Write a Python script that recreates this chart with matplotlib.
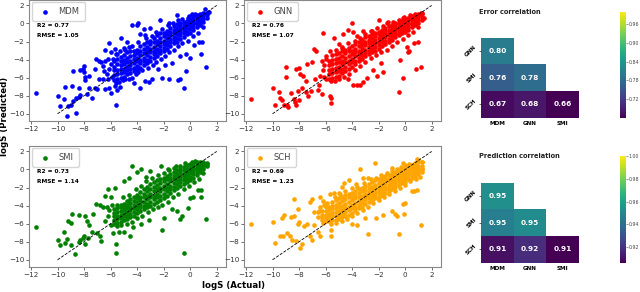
import numpy as np
import matplotlib
matplotlib.use("Agg")
import matplotlib.pyplot as plt

W, H = 640, 292

# dense part of each cloud: (actual, [predicted values])
mdm_core = [(-5.75, [-6.3, -5.7, -5.2, -4.8, -4.2]), (-5.5, [-6.2, -5.6, -5.1, -4.5, -3.9, -3.4]),
            (-5.25, [-6.0, -5.5, -5.0, -4.6, -4.2, -3.7]), (-5.0, [-5.9, -5.4, -5.0, -4.5, -4.0, -3.5]),
            (-4.75, [-5.6, -5.2, -4.8, -4.3, -3.8, -3.2]), (-4.5, [-5.5, -5.0, -4.6, -4.2, -3.6, -3.1]),
            (-4.25, [-5.3, -4.9, -4.4, -3.9, -3.5, -3.0]), (-4.0, [-5.2, -4.7, -4.2, -3.8, -3.3, -2.9]),
            (-3.75, [-4.9, -4.4, -4.0, -3.5, -3.0, -2.5]), (-3.5, [-4.6, -4.2, -3.8, -3.3, -2.8, -2.3]),
            (-3.25, [-4.4, -4.0, -3.5, -3.1, -2.6, -2.1]), (-3.0, [-4.1, -3.7, -3.2, -2.8, -2.3, -1.9]),
            (-2.75, [-3.8, -3.4, -3.0, -2.6, -2.1, -1.6]), (-2.5, [-3.6, -3.2, -2.8, -2.3, -1.9, -1.3]),
            (-2.25, [-3.3, -2.9, -2.5, -2.0, -1.6, -1.1]), (-2.0, [-3.1, -2.7, -2.3, -1.9, -1.4, -1.0]),
            (-1.75, [-2.8, -2.4, -2.0, -1.6, -1.2, -0.8]), (-1.5, [-2.5, -2.1, -1.7, -1.3, -0.9, -0.5]),
            (-1.25, [-2.2, -1.8, -1.5, -1.1, -0.7, -0.3]), (-1.0, [-2.0, -1.6, -1.2, -0.8, -0.5, -0.1]),
            (-0.75, [-1.7, -1.3, -0.9, -0.6, -0.3, 0.0]), (-0.5, [-1.5, -1.1, -0.7, -0.4, -0.1, 0.2]),
            (-0.25, [-1.2, -0.9, -0.5, -0.2, 0.1, 0.3]), (0.0, [-1.0, -0.6, -0.3, 0.0, 0.3, 0.5]),
            (0.25, [-0.7, -0.4, -0.1, 0.2, 0.5, 0.7]), (0.5, [-0.4, -0.1, 0.2, 0.4, 0.7, 0.9]),
            (0.75, [-0.2, 0.1, 0.4, 0.6, 0.9, 1.1]), (1.0, [0.2, 0.5, 0.8, 1.0, 1.2]),
            (1.25, [0.6, 0.9, 1.2])]
gnn_core = [(-5.75, [-6.1, -5.6, -5.1, -4.6, -4.1]), (-5.5, [-6.0, -5.5, -5.0, -4.5, -4.0, -3.5]),
            (-5.25, [-5.9, -5.4, -4.9, -4.4, -3.9, -3.4]), (-5.0, [-5.8, -5.3, -4.8, -4.3, -3.8, -3.3]),
            (-4.75, [-5.5, -5.0, -4.5, -4.1, -3.6, -3.1]), (-4.5, [-5.3, -4.8, -4.3, -3.8, -3.3, -2.9]),
            (-4.25, [-5.0, -4.5, -4.1, -3.6, -3.1, -2.7]), (-4.0, [-4.8, -4.3, -3.9, -3.4, -3.0, -2.5]),
            (-3.75, [-4.5, -4.1, -3.6, -3.2, -2.8, -2.3]), (-3.5, [-4.2, -3.8, -3.4, -3.0, -2.5, -2.1]),
            (-3.25, [-3.9, -3.5, -3.1, -2.7, -2.3, -1.8]), (-3.0, [-3.6, -3.3, -2.9, -2.4, -2.0, -1.5]),
            (-2.75, [-3.4, -3.0, -2.6, -2.2, -1.8, -1.4]), (-2.5, [-3.2, -2.8, -2.4, -2.0, -1.6, -1.2]),
            (-2.25, [-3.0, -2.6, -2.2, -1.8, -1.4, -1.0]), (-2.0, [-2.8, -2.4, -2.0, -1.6, -1.2, -0.9]),
            (-1.75, [-2.5, -2.1, -1.8, -1.4, -1.0, -0.7]), (-1.5, [-2.3, -1.9, -1.5, -1.2, -0.8, -0.5]),
            (-1.25, [-2.0, -1.7, -1.3, -1.0, -0.7, -0.3]), (-1.0, [-1.8, -1.4, -1.1, -0.8, -0.5, -0.2]),
            (-0.75, [-1.5, -1.2, -0.9, -0.6, -0.3, 0.0]), (-0.5, [-1.3, -1.0, -0.7, -0.4, -0.1, 0.1]),
            (-0.25, [-1.1, -0.8, -0.5, -0.2, 0.0, 0.3]), (0.0, [-0.9, -0.6, -0.3, -0.1, 0.2, 0.4]),
            (0.25, [-0.7, -0.4, -0.1, 0.1, 0.4, 0.6]), (0.5, [-0.4, -0.1, 0.1, 0.4, 0.6, 0.8]),
            (0.75, [-0.2, 0.1, 0.3, 0.6, 0.8, 1.0]), (1.0, [0.1, 0.4, 0.7, 0.9, 1.1]),
            (1.25, [0.4, 0.7, 1.0, 1.2])]
smi_core = [(-5.75, [-6.0, -5.6, -5.2, -4.8, -4.4]), (-5.5, [-5.9, -5.5, -5.1, -4.7, -4.3, -3.9]),
            (-5.25, [-5.8, -5.4, -5.0, -4.6, -4.2, -3.9]), (-5.0, [-5.6, -5.2, -4.9, -4.5, -4.1, -3.8]),
            (-4.75, [-5.5, -5.1, -4.7, -4.3, -3.9, -3.5]), (-4.5, [-5.3, -4.9, -4.5, -4.1, -3.7, -3.3]),
            (-4.25, [-5.1, -4.7, -4.3, -3.9, -3.5, -3.0]), (-4.0, [-4.8, -4.4, -4.0, -3.6, -3.2, -2.8]),
            (-3.75, [-4.6, -4.2, -3.8, -3.4, -3.0, -2.5]), (-3.5, [-4.4, -4.0, -3.6, -3.1, -2.7, -2.2]),
            (-3.25, [-4.2, -3.8, -3.3, -2.9, -2.4, -1.9]), (-3.0, [-4.0, -3.6, -3.1, -2.7, -2.2, -1.6]),
            (-2.75, [-3.8, -3.3, -2.9, -2.4, -1.9, -1.4]), (-2.5, [-3.6, -3.1, -2.7, -2.2, -1.7, -1.2]),
            (-2.25, [-3.4, -2.9, -2.4, -2.0, -1.5, -1.1]), (-2.0, [-3.2, -2.7, -2.2, -1.8, -1.3, -0.9]),
            (-1.75, [-2.9, -2.4, -2.0, -1.6, -1.1, -0.7]), (-1.5, [-2.6, -2.2, -1.8, -1.3, -0.9, -0.5]),
            (-1.25, [-2.3, -1.9, -1.5, -1.1, -0.7, -0.3]), (-1.0, [-2.0, -1.6, -1.2, -0.8, -0.5, -0.1]),
            (-0.75, [-1.8, -1.4, -1.0, -0.7, -0.3, 0.1]), (-0.5, [-1.6, -1.2, -0.8, -0.5, -0.1, 0.3]),
            (-0.25, [-1.4, -1.0, -0.6, -0.3, 0.1, 0.5]), (0.0, [-1.2, -0.8, -0.4, -0.1, 0.2, 0.6]),
            (0.25, [-0.9, -0.5, -0.2, 0.1, 0.4, 0.7]), (0.5, [-0.6, -0.3, 0.0, 0.2, 0.5, 0.8]),
            (0.75, [-0.3, 0.0, 0.2, 0.4, 0.6, 0.8]), (1.0, [0.1, 0.3, 0.5, 0.7, 0.8]),
            (1.25, [0.4, 0.6, 0.7])]
sch_core = [(-6.25, [-5.6, -5.3, -5.0, -4.6]), (-6.0, [-5.7, -5.4, -5.0, -4.6, -4.2]),
            (-5.75, [-5.7, -5.3, -4.9, -4.5, -4.1]), (-5.5, [-5.6, -5.2, -4.8, -4.4, -4.0, -3.6]),
            (-5.25, [-5.6, -5.2, -4.7, -4.3, -3.9, -3.4]), (-5.0, [-5.5, -5.1, -4.6, -4.2, -3.7, -3.2]),
            (-4.75, [-5.3, -4.9, -4.5, -4.0, -3.5, -3.0]), (-4.5, [-5.1, -4.7, -4.3, -3.8, -3.3, -2.8]),
            (-4.25, [-5.0, -4.5, -4.1, -3.6, -3.1, -2.7]), (-4.0, [-4.8, -4.3, -3.9, -3.4, -3.0, -2.6]),
            (-3.75, [-4.5, -4.1, -3.7, -3.2, -2.8, -2.4]), (-3.5, [-4.3, -3.9, -3.5, -3.1, -2.6, -2.2]),
            (-3.25, [-4.1, -3.7, -3.3, -2.9, -2.4, -2.0]), (-3.0, [-3.8, -3.4, -3.1, -2.7, -2.3, -1.8]),
            (-2.75, [-3.6, -3.2, -2.9, -2.5, -2.1, -1.6]), (-2.5, [-3.4, -3.0, -2.7, -2.3, -1.9, -1.4]),
            (-2.25, [-3.2, -2.8, -2.5, -2.1, -1.7, -1.2]), (-2.0, [-3.0, -2.6, -2.3, -1.9, -1.5, -1.0]),
            (-1.75, [-2.8, -2.4, -2.1, -1.7, -1.3, -0.9]), (-1.5, [-2.6, -2.2, -1.9, -1.5, -1.1, -0.7]),
            (-1.25, [-2.4, -2.0, -1.7, -1.3, -1.0, -0.6]), (-1.0, [-2.2, -1.8, -1.5, -1.2, -0.8, -0.5]),
            (-0.75, [-1.9, -1.6, -1.3, -1.0, -0.7, -0.3]), (-0.5, [-1.7, -1.4, -1.1, -0.8, -0.5, -0.2]),
            (-0.25, [-1.5, -1.2, -0.9, -0.6, -0.3, 0.0]), (0.0, [-1.4, -1.0, -0.7, -0.4, -0.2, 0.1]),
            (0.25, [-1.1, -0.8, -0.5, -0.2, 0.0, 0.3]), (0.5, [-0.9, -0.6, -0.3, 0.0, 0.2, 0.5]),
            (0.75, [-0.7, -0.4, -0.1, 0.2, 0.4, 0.7]), (1.0, [-0.5, -0.2, 0.1, 0.4, 0.8, 1.0]),
            (1.25, [-0.3, 0.1, 0.4, 0.8])]

# scattered points away from the band
mdm_out = [(-11.6, -7.7), (-10, -8), (-9.8, -9.1), (-9.5, -8.4), (-9.3, -10.2), (-9.2, -9.1), (-9.0, -9.0),
           (-9.4, -7), (-8.9, -6.9), (-8.8, -5.3), (-8.4, -7.1), (-8.6, -8.2), (-8.4, -8.1), (-8.3, -7.9),
           (-8.6, -9.9), (-8.8, -8.6), (-8.1, -5), (-8.0, -4.7), (-8.3, -5.1), (-8, -5.4), (-7.9, -5.9),
           (-7.9, -6.3), (-7.6, -5.8), (-7.6, -7.1), (-7.8, -7.8), (-7.4, -8.3), (-7.2, -7.2), (-7, -7.3),
           (-7.2, -5), (-7.1, -3.9), (-6.9, -4.2), (-6.7, -4.3), (-6.6, -4.7), (-6.5, -5.3), (-6.4, -2.9),
           (-6.2, -6.2), (-6.6, -6.2), (-6.9, -6.1), (-6.4, -7.3), (-6.0, -7.7), (-6.1, -7.2), (-5.6, -9),
           (-5.5, -7.4), (-5.7, -6.9), (-5.3, -7.0), (-6.1, -2.2), (-6.0, -3.2), (-5.7, -2.8), (-5.6, -3.4),
           (-5.2, -1.6), (-5.0, -2.7), (-4.8, -2.1), (-4.6, -2.6), (-4.4, -0.2), (-4.0, -0.2), (-3.9, 0.0),
           (-3.8, -1.2), (-3.5, -0.6), (-3.4, -1.3), (-3.0, -0.5), (-4.2, -6.6), (-3.8, -7.1), (-3.4, -6.4),
           (-3.1, -6.5), (-2.9, -6.2), (-4.4, -6.0), (-2.1, -6.0), (-1.6, -6.2), (-0.9, -6.3), (-0.8, -6.1),
           (-0.5, -7.2), (-2.4, -5.0), (-1.9, -4.6), (-1.4, -4.4), (-0.3, -5.3), (1.2, -4.8), (0.8, -3.4),
           (0.0, -3.8), (-0.3, -3.4), (-0.8, -3.6), (0.7, -2.1), (0.9, -2.0), (0.3, -2.4), (-2.3, 0.4),
           (-1.6, 0.1), (-1.0, 0.9), (-0.2, 0.6), (0.1, 1.1), (1.1, 1.6), (1.4, 1.3),
           # loose edge of the band
           (-6.3, -5.6), (-6.1, -5.0), (-6.0, -4.5), (-5.9, -5.9), (-6.4, -4.2), (-6.2, -3.9), (-5.85, -3.9),
           (-5.6, -6.6), (-5.4, -6.5), (-5.1, -6.3), (-4.9, -6.2), (-4.6, -6.1), (-4.1, -5.6), (-3.9, -5.4),
           (-3.6, -5.2), (-3.2, -4.9), (-2.8, -4.6), (-2.6, -4.3), (-2.2, -3.9), (-1.9, -3.6), (-1.6, -3.2),
           (-1.2, -2.9), (-0.9, -2.5), (-0.6, -2.2), (-0.2, -1.9), (0.2, -1.4), (0.6, -1.1), (1.0, -0.4),
           (-5.3, -3.0), (-4.9, -2.9), (-4.4, -2.5), (-3.9, -2.0), (-3.3, -1.6), (-2.9, -1.4), (-2.6, -0.9),
           (-2.1, -0.6), (-1.7, -0.2), (-1.3, 0.1), (-0.9, 0.4), (-0.6, 0.5), (-0.1, 0.8), (0.4, 1.1)]
gnn_out = [(-11.6, -8.4), (-10, -7.2), (-9.8, -9), (-9.5, -7.6), (-9.4, -8.2), (-9.3, -8.5), (-9.1, -9),
           (-8.9, -9), (-8.8, -9.3), (-9.0, -4.8), (-9.0, -5.9), (-8.6, -7.7), (-8.4, -8.4), (-8.3, -8.7),
           (-8.2, -9), (-8.0, -8.5), (-8.1, -7.5), (-7.8, -7.2), (-7.5, -7.6), (-7.3, -8), (-7.1, -7.5),
           (-8.0, -4.9), (-8.2, -5), (-7.9, -5.6), (-7.7, -5.8), (-7.5, -6.4), (-7.4, -4.5), (-7.0, -4.3),
           (-6.9, -2.8), (-6.7, -3.0), (-6.8, -6.2), (-6.5, -6.8), (-6.6, -7.4), (-6.3, -7.8), (-6.1, -5.9),
           (-5.7, -8.0), (-5.6, -8.2), (-5.6, -8.8), (-6.2, -1.0), (-6.0, -3.6), (-5.7, -3.0), (-5.4, -1.6),
           (-5.0, -2.3), (-4.8, -2.6), (-4.7, -1.2), (-4.3, -0.7), (-4.0, 0.0), (-3.9, -0.9), (-3.6, -1.4),
           (-3.2, -0.8), (-2.6, -0.8), (-2.0, 0.4), (-1.3, 0.2), (-0.2, 0.6), (-3.9, -6.8), (-3.6, -6.8),
           (-3.4, -6.8), (-3.2, -6.5), (-4.3, -6.2), (-2.9, -6.0), (-2.1, -5.8), (-1.7, -5.4), (-0.5, -7.6),
           (-0.2, -6.0), (0.8, -5.0), (1.2, -4.8), (-1.8, -4.4), (-2.4, -5.2), (0.2, -3.2), (0.3, -3.0),
           (0.1, -2.6), (-0.4, -4.0), (0.7, -2.2), (1.0, -2.1), (1.4, 0.6), (1.2, 1.2),
           # loose edge of the band
           (-6.4, -5.8), (-6.2, -5.2), (-6.1, -4.6), (-6.0, -6.2), (-6.3, -4.1), (-5.95, -3.9), (-5.6, -6.4),
           (-5.3, -6.4), (-5.0, -6.2), (-4.6, -5.9), (-4.2, -5.6), (-3.8, -5.2), (-3.4, -4.7), (-3.0, -4.3),
           (-2.6, -3.8), (-2.2, -3.5), (-1.8, -3.2), (-1.4, -2.9), (-1.0, -2.5), (-0.6, -2.0), (-0.2, -1.7),
           (0.2, -1.3), (0.6, -0.9), (1.0, -0.4), (-5.2, -2.9), (-4.8, -2.7), (-4.3, -2.2), (-3.8, -1.9),
           (-3.4, -1.6), (-3.0, -1.2), (-2.5, -0.8), (-2.1, -0.5), (-1.7, -0.3), (-1.4, 0.0), (-0.9, 0.2),
           (-0.5, 0.4), (-0.1, 0.7), (0.4, 0.9)]
smi_out = [(-11.6, -6.4), (-10, -7.8), (-9.8, -8.4), (-9.4, -8.1), (-9.3, -7.7), (-9.0, -8.4), (-8.7, -9.4),
           (-9.5, -6.9), (-9.2, -5.7), (-9.0, -5.9), (-8.9, -4.9), (-8.4, -5.0), (-8.4, -8.0), (-8.3, -7.8),
           (-8.1, -7.6), (-8.0, -7.4), (-7.9, -8.3), (-7.7, -7.6), (-7.9, -5.1), (-7.8, -5.7), (-7.6, -6.1),
           (-7.3, -4.9), (-7.4, -6.9), (-7.0, -7.0), (-6.8, -7.4), (-6.7, -7.9), (-7.1, -3.8), (-6.8, -3.9),
           (-6.6, -4.2), (-6.4, -2.9), (-6.2, -2.2), (-6.0, -3.0), (-5.7, -2.1), (-5.8, -7.0), (-5.6, -8.2),
           (-5.6, -9.3), (-5.4, -6.9), (-5.0, -6.9), (-4.5, -7.4), (-5.0, -1.3), (-4.6, -0.9), (-4.4, 0.4),
           (-4.0, -0.3), (-3.7, 0.1), (-3.3, -0.8), (-3.0, -0.2), (-4.3, -6.4), (-3.7, -6.0), (-3.1, -5.6),
           (-2.1, -6.7), (-2.0, -5.4), (-1.4, -4.4), (-1.0, -4.6), (-0.8, -5.5), (-0.6, -5.2), (-0.5, -9.3),
           (-0.2, -4.3), (1.2, -5.5), (0.8, -3.1), (0.2, -3.1), (0.0, -3.2), (0.6, -2.3), (0.8, -2.3),
           (-2.2, 0.4), (-1.7, 0.1), (-1.1, 0.4),
           # loose edge of the band
           (-6.4, -5.7), (-6.2, -5.1), (-6.1, -4.5), (-6.0, -6.1), (-6.3, -4.2), (-5.9, -3.9), (-5.5, -6.3),
           (-5.2, -6.1), (-4.8, -6.0), (-4.4, -5.8), (-4.0, -5.4), (-3.6, -5.1), (-3.2, -4.7), (-2.8, -4.4),
           (-2.4, -4.2), (-2.1, -3.9), (-1.7, -3.6), (-1.3, -3.1), (-0.9, -2.7), (-0.5, -2.2), (-0.1, -1.8),
           (0.3, -1.4), (0.7, -1.0), (1.0, -0.4), (-5.1, -3.1), (-4.6, -2.8), (-4.1, -2.2), (-3.7, -1.8),
           (-3.3, -1.3), (-2.9, -0.9), (-2.4, -0.6), (-2.0, -0.4), (-1.6, -0.1), (-1.2, 0.2), (-0.8, 0.4),
           (-0.4, 0.7), (0.1, 0.8), (0.4, 0.9)]
sch_out = [(-11.6, -6.0), (-10, -5.8), (-9.8, -8.1), (-9.4, -7.4), (-9.2, -7.4), (-9.3, -5.4), (-9.1, -5.0),
           (-8.9, -7.0), (-8.7, -7.4), (-8.6, -5.3), (-8.4, -5.1), (-8.4, -3.3), (-8.5, -7.8), (-8.2, -7.9),
           (-8.1, -6.0), (-8.0, -5.8), (-8.1, -4.4), (-7.9, -8.7), (-7.8, -8.2), (-7.6, -6.3), (-7.4, -6.0),
           (-7.2, -7.4), (-7.0, -7.8), (-7.2, -3.6), (-7.0, -3.3), (-6.9, -4.7), (-6.6, -4.7), (-6.4, -3.0),
           (-6.2, -3.5), (-6.9, -6.2), (-6.6, -6.9), (-6.4, -7.4), (-5.6, -7.4), (-5.6, -6.7), (-5.7, -2.7),
           (-5.4, -2.6), (-5.0, -2.6), (-4.8, -1.9), (-4.6, -1.5), (-4.2, -1.2), (-3.4, 0.1), (-3.7, -1.6),
           (-3.2, -0.9), (-2.8, -0.9), (-2.3, 0.7), (-4.0, -6.0), (-3.6, -6.2), (-3.0, -5.4), (-2.8, -7.2),
           (-2.2, -5.4), (-1.7, -5.0), (-1.0, -4.6), (-0.8, -4.9), (-0.6, -5.2), (-0.5, -7.1), (-0.1, -4.9),
           (1.2, -6.1), (-0.2, -3.8), (0.0, -3.7), (0.5, -2.4), (0.7, -2.4), (0.9, -2.3), (-1.0, 0.2),
           (-0.2, 0.7), (0.0, 0.5), (0.9, 1.2), (1.3, 0.8), (1.3, 0.1),
           # loose edge of the band
           (-6.6, -5.3), (-6.5, -4.6), (-6.4, -4.1), (-6.2, -5.9), (-6.1, -3.9), (-5.9, -3.7), (-5.6, -6.0),
           (-5.2, -5.9), (-4.8, -5.7), (-4.4, -5.5), (-4.0, -5.2), (-3.6, -4.8), (-3.2, -4.5), (-2.8, -4.1),
           (-2.4, -3.7), (-2.0, -3.4), (-1.6, -3.1), (-1.2, -2.7), (-0.8, -2.4), (-0.4, -2.0), (0.0, -1.7),
           (0.4, -1.3), (0.8, -1.0), (1.1, -0.8), (-5.3, -3.0), (-4.9, -2.7), (-4.5, -2.4), (-4.0, -2.1),
           (-3.6, -1.9), (-3.1, -1.5), (-2.6, -1.1), (-2.2, -0.9), (-1.8, -0.6), (-1.4, -0.4), (-1.0, -0.2),
           (-0.6, 0.1), (-0.3, 0.3), (0.3, 0.6)]

series_names = ["MDM", "GNN", "SMI", "SCH"]
series_colors = ["blue", "red", "green", "orange"]
r2_values = [0.77, 0.76, 0.73, 0.69]
rmse_values = [1.05, 1.07, 1.14, 1.23]

heat_xlabels = ["MDM", "GNN", "SMI"]
heat_ylabels = ["GNN", "SMI", "SCH"]
error_corr = [[0.80, np.nan, np.nan], [0.76, 0.78, np.nan], [0.67, 0.68, 0.66]]
pred_corr = [[0.953, np.nan, np.nan], [0.946, 0.951, np.nan], [0.910, 0.918, 0.906]]


def px_axes(fig, left, top, right, bottom):
    """Axes placed from pixel edges, y counted from the top."""
    return fig.add_axes([left / W, 1 - bottom / H, (right - left) / W, (bottom - top) / H])


def expand(core, out):
    xs = [c[0] for c in core for _ in c[1]] + [p[0] for p in out]
    ys = [y for c in core for y in c[1]] + [p[1] for p in out]
    return xs, ys


def plot_scatter(ax, core, out, name, color, r2, rmse):
    xs, ys = expand(core, out)
    ax.scatter(xs, ys, s=11, color=color, linewidths=0, label=name)
    ax.plot([-10, 2], [-10, 2], color="black", ls="--", lw=0.6)
    ax.set_xlim(-12.15, 2.7)
    ax.set_ylim(-10.8, 2.6)
    ax.set_xticks(range(-12, 3, 2))
    ax.set_yticks(range(-10, 3, 2))
    ax.tick_params(labelsize=5.2, length=2, width=0.5, pad=1.5, colors="#333333")
    for s in ax.spines.values():
        s.set_color("#888888")
        s.set_linewidth(0.8)
    ax.legend(loc="upper left", fontsize=6, markerscale=1, handletextpad=0.6, borderpad=0.6,
              bbox_to_anchor=(0.015, 0.985), borderaxespad=0, labelcolor="#444444")
    ax.text(0.04, 0.79, f"R2 = {r2:.2f}", transform=ax.transAxes, fontsize=4.2, fontweight="bold", va="center")
    ax.text(0.04, 0.71, f"RMSE = {rmse:.2f}", transform=ax.transAxes, fontsize=4.2, fontweight="bold", va="center")


def plot_heat(fig, box, cbar_box, values, vmin, vmax, cbar_ticks, title, title_y):
    ax = px_axes(fig, *box)
    arr = np.ma.masked_invalid(np.array(values))
    mesh = ax.pcolormesh(arr, cmap="viridis", vmin=vmin, vmax=vmax)
    ax.invert_yaxis()
    for i in range(3):
        for j in range(3):
            if not np.ma.is_masked(arr[i, j]):
                ax.text(j + 0.5, i + 0.5, f"{arr[i, j]:.2f}", color="white", fontsize=5.3,
                        fontweight="bold", ha="center", va="center")
    for s in ax.spines.values():
        s.set_visible(False)
    ax.set_xticks([0.5, 1.5, 2.5], heat_xlabels, fontsize=4.1, fontweight="bold")
    ax.set_yticks([0.5, 1.5, 2.5], heat_ylabels, fontsize=4.1, fontweight="bold", rotation=45, va="center")
    ax.tick_params(axis="x", length=0, pad=2.5)
    ax.tick_params(axis="y", length=1.5, width=0.4, pad=1)
    fig.text(479 / W, 1 - title_y / H, title, fontsize=4.8, fontweight="bold", va="center", color="#222222")

    cax = px_axes(fig, *cbar_box)
    cb = fig.colorbar(mesh, cax=cax)
    cb.set_ticks(cbar_ticks)
    cb.ax.set_yticklabels([f"{t:.2f}" for t in cbar_ticks])
    cb.ax.tick_params(labelsize=3.4, length=1.2, width=0.4, pad=1, colors="#444444")
    cb.outline.set_visible(False)


fig = plt.figure(figsize=(W / 100, H / 100), dpi=100)

boxes = [(29, 0, 226, 121), (244, 0, 441, 121), (29, 146, 226, 267), (244, 146, 441, 267)]
cores = [mdm_core, gnn_core, smi_core, sch_core]
outs = [mdm_out, gnn_out, smi_out, sch_out]
for box, core, out, name, color, r2, rmse in zip(boxes, cores, outs, series_names, series_colors,
                                                 r2_values, rmse_values):
    plot_scatter(px_axes(fig, *box), core, out, name, color, r2, rmse)

fig.text(4.5 / W, 1 - 116 / H, "logS (Predicted)", rotation=90, fontsize=6.2, fontweight="bold",
         ha="center", va="center")
fig.text(233 / W, 1 - 286 / H, "logS (Actual)", fontsize=6.2, fontweight="bold", ha="center", va="center")

plot_heat(fig, (481, 37.7, 579, 117.7), (620.3, 11.7, 625.7, 117.7), error_corr, 0.66, 1.0,
          [0.72, 0.78, 0.84, 0.90, 0.96], "Error correlation", 11.5)
plot_heat(fig, (481, 182.7, 579, 262.7), (620.3, 156.3, 625.7, 262.7), pred_corr, 0.906, 1.0,
          [0.92, 0.94, 0.96, 0.98, 1.00], "Prediction correlation", 156)

fig.savefig("out.png", dpi=100)
